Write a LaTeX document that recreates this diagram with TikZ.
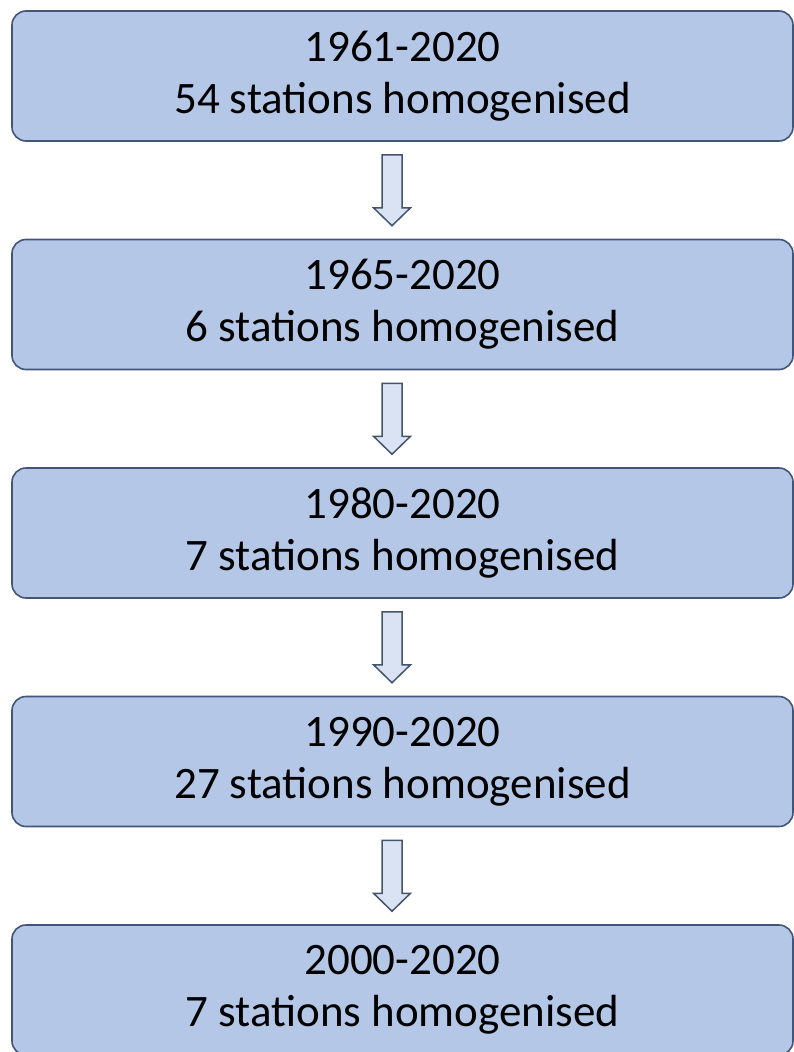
\documentclass[tikz,border=0pt]{standalone}
\usepackage{fontspec}
\setmainfont{Carlito}
\usetikzlibrary{calc}
\definecolor{boxfill}{HTML}{B4C7E7}
\definecolor{boxline}{HTML}{42557A}
\definecolor{arrfill}{HTML}{DAE3F3}
\definecolor{arrline}{HTML}{44546A}

\begin{document}
\begin{tikzpicture}[x=1pt, y=-1pt,
    period/.style={draw=boxline, line width=1.6pt, fill=boxfill, rounded corners=14pt,
      minimum width=781pt, minimum height=130pt, inner sep=0pt, align=center,
      font=\fontsize{45}{52}\selectfont},
    blockarrow/.style={draw=arrline, line width=1.5pt, fill=arrfill, line join=miter}]
    \useasboundingbox (0,0) rectangle (794,1052);

    \node[period] (p1) at (402.5,76) {1961-2020\\54 stations homogenised};
    \node[period] (p2) at (402.5,304.5) {1965-2020\\6 stations homogenised};
    \node[period] (p3) at (402.5,533) {1980-2020\\7 stations homogenised};
    \node[period] (p4) at (402.5,761.5) {1990-2020\\27 stations homogenised};
    \node[period] (p5) at (402.5,990) {2000-2020\\7 stations homogenised};

    % hollow arrows between the periods
    \foreach \a/\b in {p1/p2,p2/p3,p3/p4,p4/p5} {
      \coordinate (m\a) at ($(\a.south)!0.5!(\b.north)+(-10.5,0)$);
      \draw[blockarrow] ($(m\a)+(-10,-35.5)$) -- ($(m\a)+(10,-35.5)$) -- ($(m\a)+(10,17.5)$)
        -- ($(m\a)+(18.5,17.5)$) -- ($(m\a)+(0,35.5)$) -- ($(m\a)+(-18.5,17.5)$)
        -- ($(m\a)+(-10,17.5)$) -- cycle;
    }
  \end{tikzpicture}
\end{document}
